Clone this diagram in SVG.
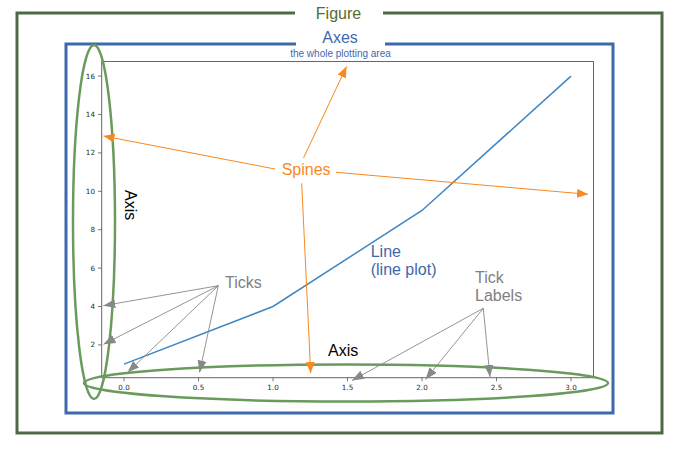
<svg xmlns="http://www.w3.org/2000/svg" width="682" height="451" viewBox="0 0 682 451">
<style>
text{font-family:"Liberation Sans",Arial,sans-serif;}
.frame{fill:none;stroke-width:3;}
.tl{font-family:"DejaVu Sans",sans-serif;font-size:7.2px;fill:#2a2a2a;}
.tk{stroke:#555;stroke-width:0.8;}
.spine{fill:none;stroke:#666;stroke-width:1;}
.ell{fill:none;stroke:#6a9a5c;stroke-width:2.5;}
.oa{stroke:#f7891f;stroke-width:1;fill:none;marker-end:url(#ao);}
.ga{stroke:#888;stroke-width:0.9;fill:none;marker-end:url(#ag);}
.lbl{font-size:16px;}
</style>
<defs>
<marker id="ao" markerUnits="userSpaceOnUse" markerWidth="12" markerHeight="10" refX="11" refY="4.5" orient="auto"><path d="M0,0 L11,4.5 L0,9 z" fill="#f7891f"/></marker>
<marker id="ag" markerUnits="userSpaceOnUse" markerWidth="13" markerHeight="10" refX="12" refY="4.5" orient="auto"><path d="M0,0 L12,4.5 L0,9 z" fill="#888"/></marker>
</defs>
<g id="figure">
<path class="frame" stroke="#4e6a44" d="M295,13 H17 V433 H662 V13 H383"/>
<text x="338.5" y="19" text-anchor="middle" font-size="16" fill="#556b2f">Figure</text>
</g>
<g id="axes">
<path class="frame" stroke="#3d69ad" d="M296,44 H66 V413 H613 V44 H385"/>
<text x="340" y="43" text-anchor="middle" font-size="16" fill="#3d69ad">Axes</text>
<text x="340.5" y="56.5" text-anchor="middle" font-size="10" fill="#3d69ad">the whole plotting area</text>
</g>
<g id="plot">
<rect class="spine" x="101.7" y="61.5" width="491.8" height="316.2"/>
<g id="yticks">
<line class="tk" x1="98" y1="344.9" x2="101.7" y2="344.9"/>
<line class="tk" x1="98" y1="306.5" x2="101.7" y2="306.5"/>
<line class="tk" x1="98" y1="268.1" x2="101.7" y2="268.1"/>
<line class="tk" x1="98" y1="229.7" x2="101.7" y2="229.7"/>
<line class="tk" x1="98" y1="191.3" x2="101.7" y2="191.3"/>
<line class="tk" x1="98" y1="152.9" x2="101.7" y2="152.9"/>
<line class="tk" x1="98" y1="114.5" x2="101.7" y2="114.5"/>
<line class="tk" x1="98" y1="76.1" x2="101.7" y2="76.1"/>
<text class="tl" x="95" y="347.4" text-anchor="end">2</text>
<text class="tl" x="95" y="309" text-anchor="end">4</text>
<text class="tl" x="95" y="270.6" text-anchor="end">6</text>
<text class="tl" x="95" y="232.2" text-anchor="end">8</text>
<text class="tl" x="95" y="193.8" text-anchor="end">10</text>
<text class="tl" x="95" y="155.4" text-anchor="end">12</text>
<text class="tl" x="95" y="117" text-anchor="end">14</text>
<text class="tl" x="95" y="78.6" text-anchor="end">16</text>
</g>
<g id="xticks">
<line class="tk" x1="124" y1="377.7" x2="124" y2="381.3"/>
<line class="tk" x1="198.5" y1="377.7" x2="198.5" y2="381.3"/>
<line class="tk" x1="273" y1="377.7" x2="273" y2="381.3"/>
<line class="tk" x1="347.5" y1="377.7" x2="347.5" y2="381.3"/>
<line class="tk" x1="422" y1="377.7" x2="422" y2="381.3"/>
<line class="tk" x1="496.5" y1="377.7" x2="496.5" y2="381.3"/>
<line class="tk" x1="571" y1="377.7" x2="571" y2="381.3"/>
<text class="tl" x="124" y="390" text-anchor="middle">0.0</text>
<text class="tl" x="198.5" y="390" text-anchor="middle">0.5</text>
<text class="tl" x="273" y="390" text-anchor="middle">1.0</text>
<text class="tl" x="347.5" y="390" text-anchor="middle">1.5</text>
<text class="tl" x="422" y="390" text-anchor="middle">2.0</text>
<text class="tl" x="496.5" y="390" text-anchor="middle">2.5</text>
<text class="tl" x="571" y="390" text-anchor="middle">3.0</text>
</g>
<polyline fill="none" stroke="#3f87c5" stroke-width="1.5" points="124,364.1 273,306.5 422,210.5 571,76.1"/>
</g>
<g id="axis-ellipses">
<ellipse class="ell" cx="94" cy="222" rx="21" ry="177"/>
<ellipse class="ell" cx="346" cy="383" rx="262" ry="18.5"/>
</g>
<g id="connectors">
<line class="oa" x1="303.5" y1="158" x2="346.5" y2="66.5"/>
<line class="oa" x1="275" y1="169" x2="103.5" y2="136"/>
<line class="oa" x1="336" y1="172.3" x2="588" y2="194.3"/>
<line class="oa" x1="301.7" y1="183.3" x2="310.7" y2="373"/>
<line class="ga" x1="218.3" y1="285.7" x2="103.3" y2="305.7"/>
<line class="ga" x1="218.3" y1="285.7" x2="103.5" y2="344.3"/>
<line class="ga" x1="218.3" y1="285.7" x2="127.5" y2="372.5"/>
<line class="ga" x1="218.3" y1="285.7" x2="199.5" y2="372.5"/>
<line class="ga" x1="483.3" y1="308.3" x2="352" y2="380.5"/>
<line class="ga" x1="483.3" y1="308.3" x2="425.5" y2="379.5"/>
<line class="ga" x1="483.3" y1="308.3" x2="490" y2="377"/>
</g>
<g id="spines-label"><text class="lbl" x="281.7" y="175" fill="#f7891f">Spines</text></g>
<g id="ticks-label"><text class="lbl" x="225" y="288.3" fill="#808080">Ticks</text></g>
<g id="ticklabels-label"><text class="lbl" fill="#808080"><tspan x="475" y="283.3">Tick</tspan><tspan x="475" y="301">Labels</tspan></text></g>
<g id="line-label"><text class="lbl" fill="#3d69ad"><tspan x="370.7" y="256.7">Line</tspan><tspan x="370.7" y="275">(line plot)</tspan></text></g>
<g id="axis-label-y"><text class="lbl" transform="translate(125,190) rotate(90)" fill="#000">Axis</text></g>
<g id="axis-label-x"><text class="lbl" x="328" y="356" fill="#000">Axis</text></g>
</svg>
